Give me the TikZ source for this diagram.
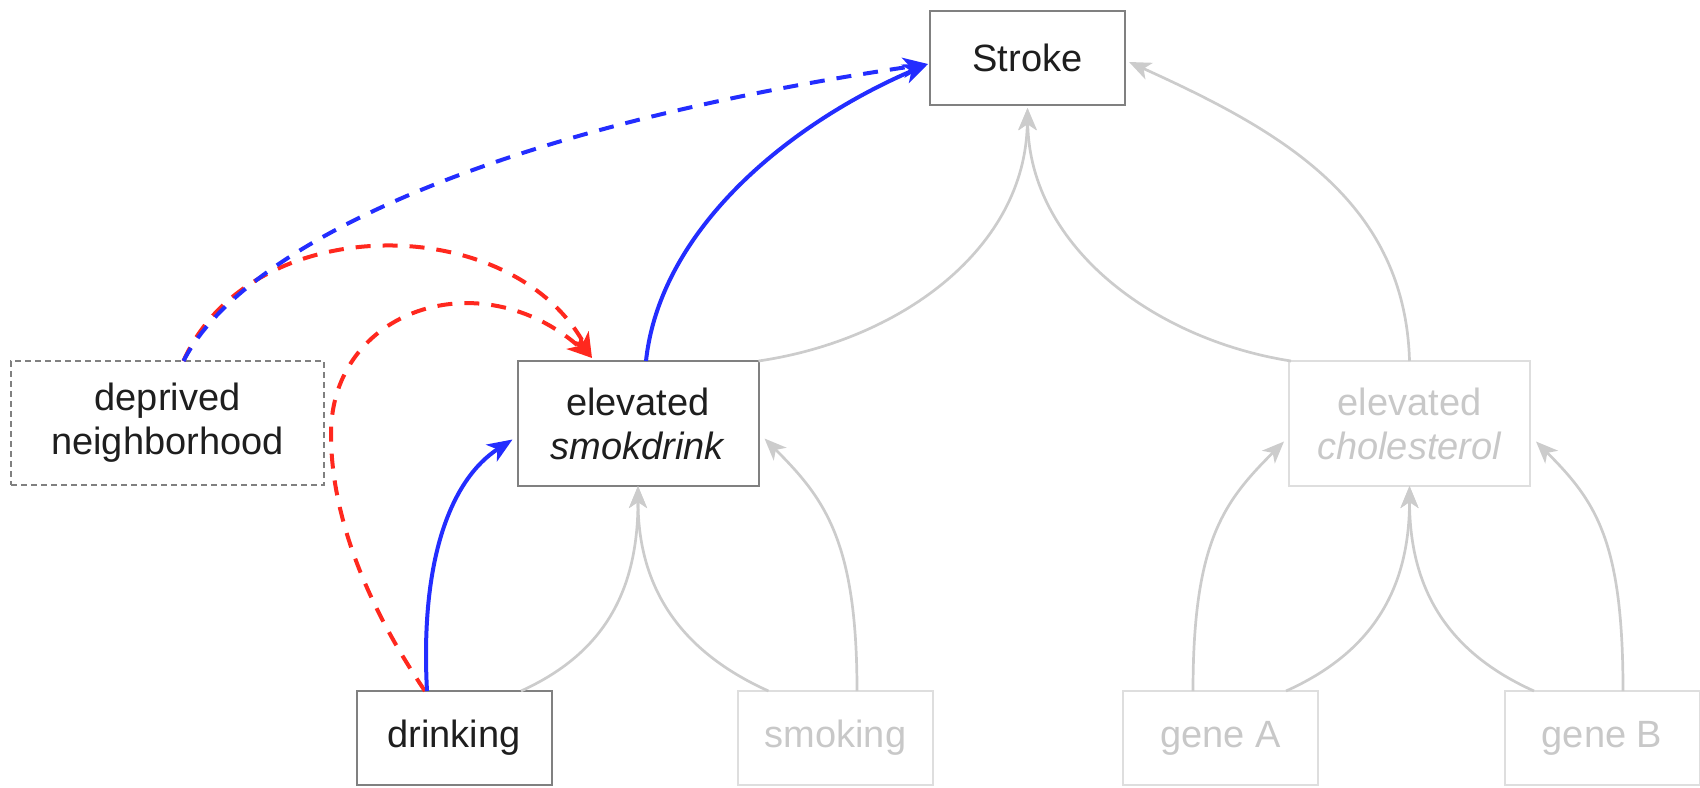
\documentclass[tikz,border=0pt]{standalone}
\usepackage{fontspec}
\setmainfont{Liberation Sans}
\usetikzlibrary{arrows.meta,calc}
\definecolor{eblue}{RGB}{35,45,255}
\definecolor{ered}{RGB}{255,40,30}
\definecolor{egray}{RGB}{204,204,204}
\definecolor{lbord}{RGB}{222,222,222}
\definecolor{ltext}{RGB}{200,200,200}
\definecolor{dbord}{RGB}{128,128,128}
\definecolor{dtext}{RGB}{30,30,30}
\begin{document}
\begin{tikzpicture}[x=0.5pt,y=-0.5pt,
  box/.style={draw=dbord,line width=1pt,text=dtext,inner sep=0pt,outer sep=0pt,align=center,font=\fontsize{19}{22}\selectfont},
  lbox/.style={box,draw=lbord,text=ltext},
  dbox/.style={box,dash pattern=on 3pt off 2pt},
  smallbox/.style={minimum width=97.5pt,minimum height=47pt},
  bigbox/.style={minimum width=120.5pt,minimum height=62.5pt},
  gtip/.style={-{Stealth[length=11pt,width=9pt,inset=3pt]}},
  ctip/.style={-{Stealth[length=12.5pt,width=10pt,inset=3.5pt]}},
  gedge/.style={gtip,draw=egray,line width=1.35pt},
  bedge/.style={ctip,draw=eblue,line width=2pt},
  bdedge/.style={bedge,dash pattern=on 7.5pt off 6pt},
  redge/.style={ctip,draw=ered,line width=2pt,dash pattern=on 7.5pt off 6pt}]
\useasboundingbox (0,0) rectangle (1700,787);

% nodes
\node[box,smallbox] (stroke) at (1027.5,58) {Stroke};
\node[dbox,minimum width=156.5pt,minimum height=62pt] (depr) at (167.5,423) {deprived\\neighborhood};
\node[box,bigbox] (smok) at (638,423.5) {elevated\\\textit{smokdrink}};
\node[lbox,bigbox] (chol) at (1409.5,423.5) {elevated\\\textit{cholesterol}};
\node[box,smallbox] (drink) at (454,738) {drinking};
\node[lbox,smallbox] (smoking) at (835.5,738) {smoking};
\node[lbox,smallbox] (geneA) at (1220.5,738) {gene A};
\node[lbox,smallbox] (geneB) at (1602,738) {gene B};

% gray edges
\draw[gedge] ($(drink.north)+(67,0)$) .. controls +(79,-36) and +(0,110) .. (smok.south);
\draw[gedge] ($(smoking.north)+(-67,0)$) .. controls +(-80,-36) and +(0,110) .. (smok.south);
\draw[gedge] ($(smoking.north)+(21.5,0)$) .. controls +(0,-150) and +(60,60) .. ($(smok.east)+(6,15)$);
\draw[gedge] (smok.north east) .. controls +(143,-21) and +(-2,140) .. ($(stroke.south)+(0,3)$);
\draw[gedge] ($(chol.north west)+(2,0)$) .. controls +(-135,-21) and +(2,140) .. ($(stroke.south)+(0,3)$);
\draw[gedge] (chol.north) .. controls +(-4.5,-161) and +(150,68) .. ($(stroke.east)+(4,4)$);
\draw[gedge] ($(geneA.north)+(-27.5,0)$) .. controls +(0,-150) and +(-60,60) .. ($(chol.west)+(-5,18)$);
\draw[gedge] ($(geneA.north)+(65.5,0)$) .. controls +(80,-36) and +(0,110) .. (chol.south);
\draw[gedge] ($(geneB.north)+(-68,0)$) .. controls +(-80,-36) and +(0,110) .. (chol.south);
\draw[gedge] ($(geneB.north)+(21,0)$) .. controls +(0,-150) and +(60,60) .. ($(chol.east)+(6,18)$);

% red dashed edges
\draw[redge] ($(depr.north)+(16,0)$) .. controls +(66.5,-151) and +(-82,-148) .. ($(smok.north)+(-46,-3)$);
\coordinate (rbend) at (331,434);
\draw[redge] ($(drink.north)+(-29,0)$) .. controls +(-55,-81) and +(0,86) .. (rbend)
  .. controls +(0,-124) and +(-112,-98.5) .. ($(smok.north)+(-46,-3)$);

% blue edges
\draw[bdedge] ($(depr.north)+(16,0)$) .. controls +(56.5,-111) and +(-448,66) .. ($(stroke.west)+(-2,6)$);
\draw[bedge] ($(drink.north)+(-27,0)$) .. controls +(-7,-131) and +(-62,40) .. ($(smok.west)+(-5,16)$);
\draw[bedge] ($(smok.north)+(8,0)$) .. controls +(14,-131) and +(-140,60) .. ($(stroke.west)+(-2,6)$);
\end{tikzpicture}
\end{document}
